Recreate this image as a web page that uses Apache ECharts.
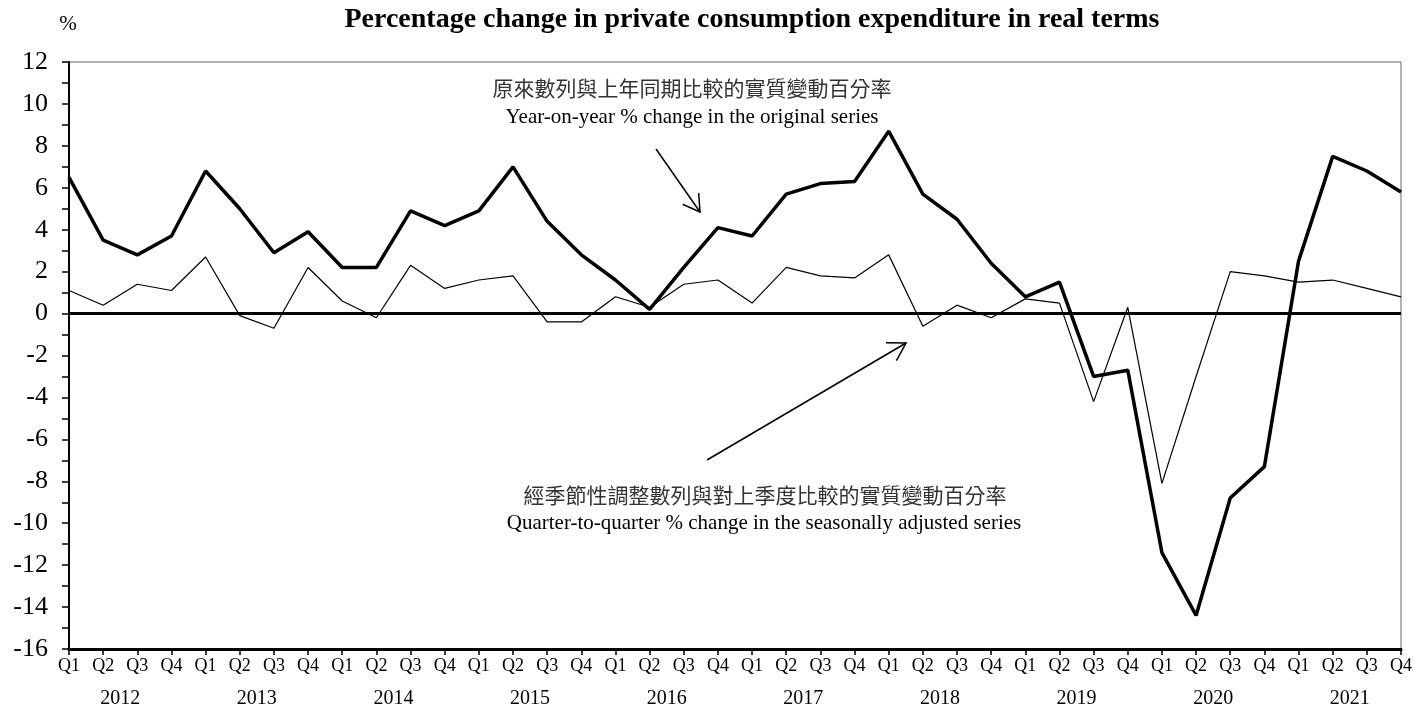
<!DOCTYPE html>
<html>
<head>
<meta charset="utf-8">
<script src="https://cdn.jsdelivr.net/npm/echarts@6/dist/echarts.min.js"></script>
<style>
  html, body { margin: 0; padding: 0; background: #fff; }
  #main { width: 1415px; height: 713px; }
</style>
</head>
<body>
<div id="main"></div>
<script>
// 年份与季度
const years = ['2012', '2013', '2014', '2015', '2016', '2017', '2018', '2019', '2020', '2021'];
const quarters = ['Q1', 'Q2', 'Q3', 'Q4'];
// 原来数列与上年同期比较 (粗线)
const yoyChange = [6.5, 3.5, 2.8, 3.7, 6.8, 5.0, 2.9, 3.9, 2.2, 2.2, 4.9, 4.2,
  4.9, 7.0, 4.4, 2.8, 1.6, 0.2, 2.2, 4.1, 3.7, 5.7, 6.2, 6.3,
  8.7, 5.7, 4.5, 2.4, 0.8, 1.5, -3.0, -2.7, -11.4, -14.4, -8.8, -7.3,
  2.5, 7.5, 6.8, 5.8];
// 经季节性调整数列与对上季度比较 (细线)
const qoqChange = [1.1, 0.4, 1.4, 1.1, 2.7, -0.1, -0.7, 2.2, 0.6, -0.2, 2.3, 1.2,
  1.6, 1.8, -0.4, -0.4, 0.8, 0.3, 1.4, 1.6, 0.5, 2.2, 1.8, 1.7,
  2.8, -0.6, 0.4, -0.2, 0.7, 0.5, -4.2, 0.3, -8.1, -3.0, 2.0, 1.8,
  1.5, 1.6, 1.2, 0.8];

const categories = [];
years.forEach(y => quarters.forEach(q => categories.push(y + ' ' + q)));

const serif = '"Liberation Serif", "Times New Roman", serif';
const cjk = '"Noto Sans CJK TC", sans-serif';

// 箭头: 线 + 开口的 V 形箭头
function arrow(x1, y1, x2, y2, len) {
  const a = Math.atan2(y2 - y1, x2 - x1);
  const s = 0.54;
  const p1 = [x2 - len * Math.cos(a - s), y2 - len * Math.sin(a - s)];
  const p2 = [x2 - len * Math.cos(a + s), y2 - len * Math.sin(a + s)];
  return [
    { type: 'line', shape: { x1: x1, y1: y1, x2: x2, y2: y2 }, style: { stroke: '#000', lineWidth: 1.5 }, z: 10 },
    { type: 'polyline', shape: { points: [p1, [x2, y2], p2] }, style: { stroke: '#000', lineWidth: 1.5, fill: null }, z: 10 }
  ];
}

function label(text, x, y, font, color) {
  return {
    type: 'text', x: x, y: y, z: 10,
    style: { text: text, font: font, fill: color || '#000', textAlign: 'center', textVerticalAlign: 'middle' }
  };
}

let myChart = echarts.init(document.getElementById('main'));
myChart.setOption({
  backgroundColor: '#fff',
  animation: false,
  grid: {
    left: 69, right: 13, top: 62, bottom: 64,
    show: true, borderColor: '#666', borderWidth: 1
  },
  xAxis: [{
    type: 'category',
    data: categories,
    boundaryGap: false,
    axisLine: { onZero: false, lineStyle: { color: '#000', width: 3 } },
    axisTick: { length: 6, lineStyle: { color: '#000', width: 1.5 } },
    axisLabel: {
      interval: 0, margin: 8, color: '#000', fontSize: 18, fontFamily: serif,
      formatter: v => v.split(' ')[1]
    },
    splitLine: { show: false }
  }, {
    type: 'value',
    position: 'bottom',
    offset: 37,
    min: 0, max: 39,
    axisLine: { show: false },
    axisTick: { show: false },
    splitLine: { show: false },
    axisLabel: {
      customValues: years.map((y, i) => i * 4 + 1.5),
      formatter: v => years[Math.round((v - 1.5) / 4)],
      color: '#000', fontSize: 20, fontFamily: serif, margin: 3
    }
  }],
  yAxis: {
    type: 'value',
    min: -16, max: 12, interval: 2,
    axisLine: { show: true, lineStyle: { color: '#000', width: 2 } },
    axisTick: { show: true, length: 7, lineStyle: { color: '#000', width: 1.5 } },
    minorTick: { show: true, splitNumber: 2, length: 7, lineStyle: { color: '#000', width: 1.5 } },
    axisLabel: { color: '#000', fontSize: 26, fontFamily: serif, margin: 21 },
    splitLine: { show: false }
  },
  graphic: [
    label('%', 68, 24, '21px ' + serif),
    label('Percentage change in private consumption expenditure in real terms', 752, 20, 'bold 28px ' + serif),
    label('原來數列與上年同期比較的實質變動百分率', 692, 88, '21px ' + cjk, '#333'),
    label('Year-on-year % change in the original series', 692, 117, '21px ' + serif),
    label('經季節性調整數列與對上季度比較的實質變動百分率', 765, 495, '21px ' + cjk, '#333'),
    label('Quarter-to-quarter % change in the seasonally adjusted series', 764, 523, '21px ' + serif)
  ].concat(arrow(656, 149, 700, 212, 19)).concat(arrow(707, 460, 906, 343, 20)),
  series: [{
    name: 'yoy',
    type: 'line',
    data: yoyChange,
    symbol: 'none',
    lineStyle: { color: '#000', width: 3.5 },
    z: 3,
    markLine: {
      silent: true,
      symbol: 'none',
      label: { show: false },
      lineStyle: { color: '#000', width: 3, type: 'solid' },
      data: [{ yAxis: 0 }]
    }
  }, {
    name: 'qoq',
    type: 'line',
    data: qoqChange,
    symbol: 'none',
    lineStyle: { color: '#000', width: 1.2 },
    z: 2
  }]
});
</script>
</body>
</html>
